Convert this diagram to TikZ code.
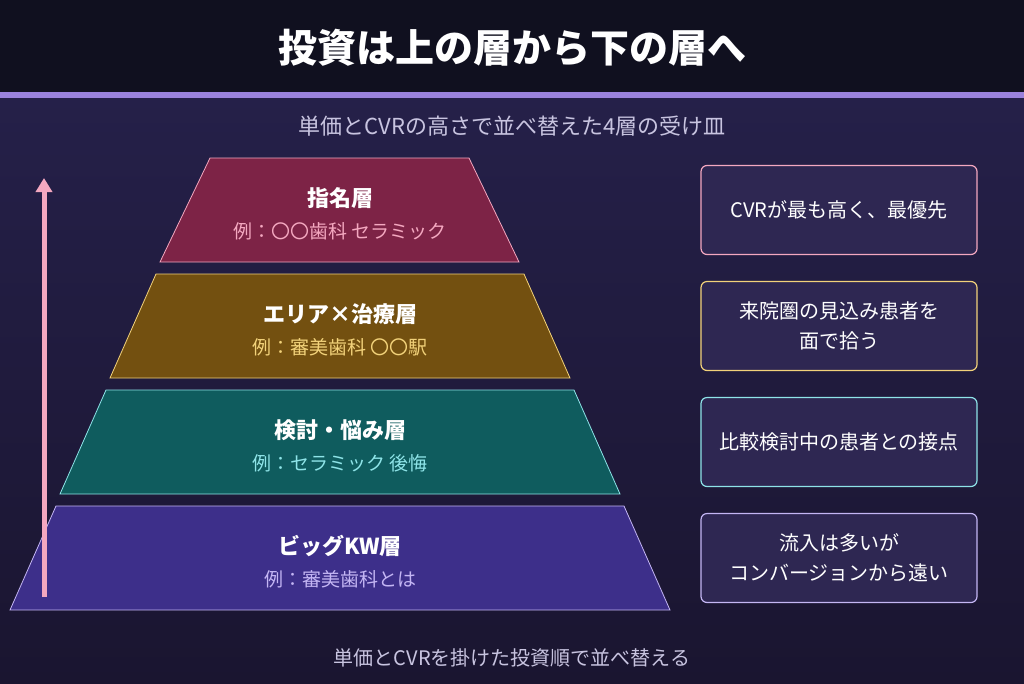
\documentclass[tikz,border=0pt]{standalone}
\usepackage{fontspec}
\setmainfont{Noto Sans CJK JP}
\usetikzlibrary{positioning, arrows.meta}
\definecolor{BgTop}{HTML}{10101F}
\definecolor{BgMid}{HTML}{252049}
\definecolor{BgLow}{HTML}{1A1530}
\definecolor{LineLav}{HTML}{9A82DC}
\definecolor{SubText}{HTML}{C8C4E0}
\definecolor{BoxFill}{HTML}{2E2752}
\definecolor{LayRed}{HTML}{7D2346}
\definecolor{EdgeRed}{HTML}{F4A8C0}
\definecolor{LayGold}{HTML}{735010}
\definecolor{EdgeGold}{HTML}{F2D27A}
\definecolor{LayTeal}{HTML}{0F5C5E}
\definecolor{EdgeTeal}{HTML}{8EE4E8}
\definecolor{LayBlue}{HTML}{3D2F8A}
\definecolor{EdgeBlue}{HTML}{C4B6F4}
\tikzset{
  layer/.style={line width=0.8pt},
  head/.style={font=\bfseries\fontsize{22}{26}\selectfont, white},
  sub/.style={font=\fontsize{19}{22}\selectfont},
  note/.style={draw, line width=1.2pt, fill=BoxFill, rounded corners=6pt,
    minimum width=276pt, minimum height=89pt, align=center, text=white,
    font=\fontsize{20}{30}\selectfont},
}
\begin{document}
\begin{tikzpicture}[x=1pt, y=-1pt]
  % Background
  \useasboundingbox (0,0) rectangle (1024,683);
  \shade[top color=BgMid, bottom color=BgLow] (0,96) rectangle (1024,683);
  \fill[BgTop] (0,0) rectangle (1024,92);
  \fill[LineLav] (0,92) rectangle (1024,98);
  \node[font=\bfseries\fontsize{39}{44}\selectfont, white] (title) at (512,48) {投資は上の層から下の層へ};
  \node[font=\fontsize{22}{26}\selectfont, SubText] (subtitle) at (512,126) {単価とCVRの高さで並べ替えた4層の受け皿};

  % Pyramid layers
  \filldraw[layer, fill=LayRed, draw=EdgeRed] (210,158) -- (469,158) -- (519,262) -- (160,262) -- cycle;
  \node[head] (l1) at (340,198) {指名層};
  \node[sub, EdgeRed] (s1) at (340,231) {例：〇〇歯科 セラミック};
  \filldraw[layer, fill=LayGold, draw=EdgeGold] (156,274) -- (524,274) -- (570,378) -- (110,378) -- cycle;
  \node[head] (l2) at (340,314) {エリア×治療層};
  \node[sub, EdgeGold] (s2) at (340,347) {例：審美歯科 〇〇駅};
  \filldraw[layer, fill=LayTeal, draw=EdgeTeal] (106,390) -- (574,390) -- (620,494) -- (60,494) -- cycle;
  \node[head] (l3) at (340,430) {検討・悩み層};
  \node[sub, EdgeTeal] (s3) at (340,463) {例：セラミック 後悔};
  \filldraw[layer, fill=LayBlue, draw=EdgeBlue] (56,506) -- (624,506) -- (670,610) -- (10,610) -- cycle;
  \node[head] (l4) at (340,546) {ビッグKW層};
  \node[sub, EdgeBlue] (s4) at (340,579) {例：審美歯科とは};

  % Arrow
  \coordinate (abot) at (44,597);
  \coordinate (atop) at (44,178);
  \draw[EdgeRed, line width=5pt, -{Triangle[width=16pt,length=14pt]}] (abot) -- (atop);

  % Notes
  \node[note, draw=EdgeRed] (n1) at (839,210) {CVRが最も高く、最優先};
  \node[note, draw=EdgeGold] (n2) at (839,326) {来院圏の見込み患者を\\面で拾う};
  \node[note, draw=EdgeTeal] (n3) at (839,442) {比較検討中の患者との接点};
  \node[note, draw=EdgeBlue] (n4) at (839,558) {流入は多いが\\コンバージョンから遠い};

  \node[font=\fontsize{20}{24}\selectfont, SubText] (footer) at (512,658) {単価とCVRを掛けた投資順で並べ替える};
\end{tikzpicture}
\end{document}
